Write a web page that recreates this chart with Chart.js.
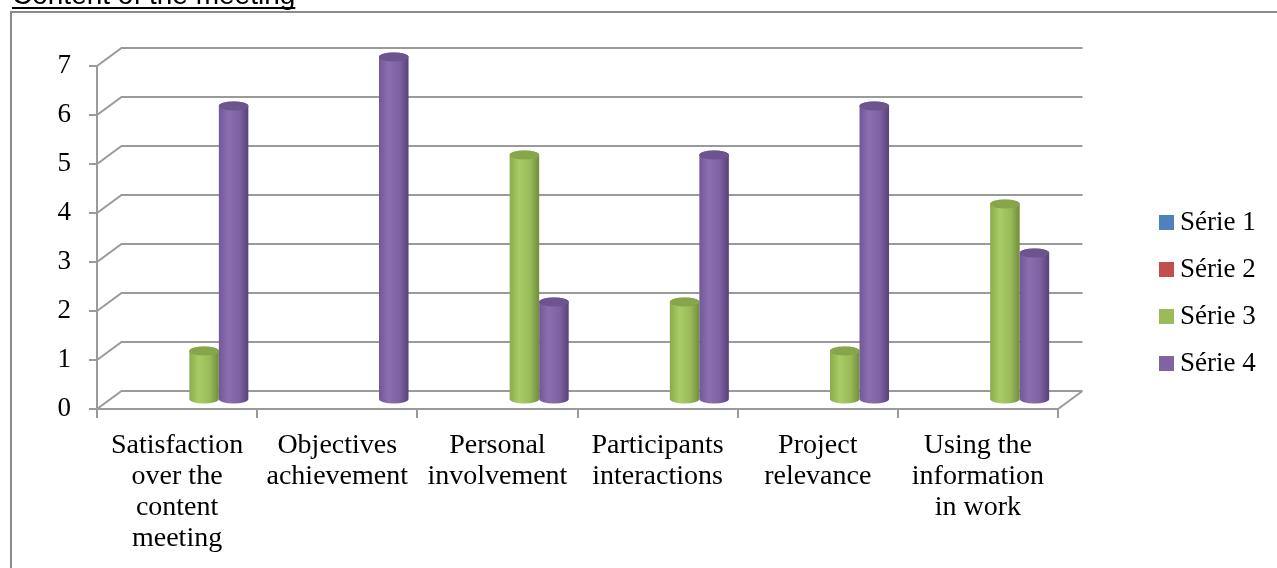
<!DOCTYPE html>
<html>
<head>
<meta charset="utf-8">
<title>Content of the meeting</title>
<script src="https://cdn.jsdelivr.net/npm/chart.js@4.4.0/dist/chart.umd.min.js"></script>
<style>
  html, body { margin: 0; padding: 0; background: #fff; }
  canvas { display: block; }
</style>
</head>
<body>
<canvas id="meetingChart" width="1277" height="568"></canvas>
<script>
// Chart data
const categories = [
    ["Satisfaction", "over the", "content", "meeting"],
    ["Objectives", "achievement"],
    ["Personal", "involvement"],
    ["Participants", "interactions"],
    ["Project", "relevance"],
    ["Using the", "information", "in work"]
];
const serie1 = [0, 0, 0, 0, 0, 0];
const serie2 = [0, 0, 0, 0, 0, 0];
const serie3 = [1, 0, 5, 2, 1, 4];
const serie4 = [6, 7, 2, 5, 6, 3];
const seriesNames = ["Série 1", "Série 2", "Série 3", "Série 4"];
const yTicks = [0, 1, 2, 3, 4, 5, 6, 7];

// Styles
const seriesColors = ["#4F81BD", "#C0504D", "#9BBB59", "#8064A2"];
const cylinderTones = [
    { edge: "#46729f", light: "#6d9bd3", mid: "#4f81bd", dark: "#355d8c", top: "#43709f" },
    { edge: "#a5413f", light: "#d46a67", mid: "#c0504d", dark: "#8c3634", top: "#a3423f" },
    { edge: "#8cab4d", light: "#a9cc66", mid: "#98ba58", dark: "#718d3a", top: "#87a54a" },
    { edge: "#71579a", light: "#8b6eaf", mid: "#7d61a1", dark: "#57427a", top: "#6b548f" }
];
const gridColor = "#9a9a9a";
const textFont = "'Liberation Serif', 'Times New Roman', serif";

// depth of the 3D box (back wall offset from the front plane)
const depthX = 24.5;
const depthY = -18;

function drawCylinder(c, cx, yTop, yBase, r, ry, tone) {
    if (yBase - yTop < 0.5) return;
    const left = cx - r, right = cx + r;
    const grad = c.createLinearGradient(left, 0, right, 0);
    grad.addColorStop(0, tone.edge);
    grad.addColorStop(0.32, tone.light);
    grad.addColorStop(0.7, tone.mid);
    grad.addColorStop(1, tone.dark);
    c.beginPath();
    c.moveTo(left, yTop);
    c.lineTo(left, yBase);
    c.ellipse(cx, yBase, r, ry, 0, Math.PI, 0, true);
    c.lineTo(right, yTop);
    c.ellipse(cx, yTop, r, ry, 0, 0, Math.PI, true);
    c.closePath();
    c.fillStyle = grad;
    c.fill();

    // top cap
    c.beginPath();
    c.ellipse(cx, yTop, r, ry, 0, 0, Math.PI * 2);
    c.fillStyle = tone.top;
    c.fill();
}

const framePlugin = {
    id: "frame",
    beforeDraw(chart) {
        const c = chart.ctx;
        c.save();
        c.strokeStyle = "#8a8a8a";
        c.lineWidth = 2;
        c.strokeRect(11, 12, 2000, 2000);

        c.font = "28px 'Liberation Sans', Arial, sans-serif";
        c.fillStyle = "#000";
        c.textBaseline = "alphabetic";
        const title = "Content of the meeting";
        c.fillText(title, 12, 4);
        c.fillRect(12, 7, c.measureText(title).width, 2);
        c.restore();
    }
};

const cylinderPlugin = {
    id: "cylinders",
    beforeDatasetsDraw(chart) {
        const c = chart.ctx;
        const area = chart.chartArea;
        const yScale = chart.scales.y;

        // back wall and floor grid
        c.save();
        c.strokeStyle = gridColor;
        c.lineWidth = 2;
        c.beginPath();
        yTicks.forEach(v => {
            const y = Math.round(yScale.getPixelForValue(v));
            c.moveTo(area.left, y);
            c.lineTo(area.left + depthX, y + depthY);
            c.lineTo(area.right + depthX, y + depthY);
            if (v === 0) {
                c.moveTo(area.right, y);
                c.lineTo(area.right + depthX, y + depthY);
            }
        });
        c.stroke();

        // cylinders sit halfway into the box
        chart.data.datasets.forEach((ds, i) => {
            const meta = chart.getDatasetMeta(i);
            meta.data.forEach((bar, j) => {
                if (!ds.data[j]) return;
                const p = bar.getProps(["x", "y", "base", "width"], true);
                drawCylinder(c, p.x + depthX / 2, p.y + depthY / 2, p.base + depthY / 2,
                    p.width / 2, 4.5, cylinderTones[i]);
            });
        });
        c.restore();
        return false;
    },
    afterDraw(chart) {
        // legend
        const c = chart.ctx;
        c.save();
        c.font = "27px " + textFont;
        c.textBaseline = "middle";
        c.textAlign = "left";
        chart.data.datasets.forEach((ds, i) => {
            const y = 222.5 + i * 47;
            c.fillStyle = seriesColors[i];
            c.fillRect(1159, y - 7.5, 15, 15);
            c.fillStyle = "#000";
            c.fillText(ds.label, 1180, y);
        });
        c.restore();
    }
};

const ctx = document.getElementById("meetingChart").getContext("2d");

const meetingChart = new Chart(ctx, {
    type: "bar",
    data: {
        labels: categories,
        datasets: [
            { label: seriesNames[0], data: serie1, backgroundColor: seriesColors[0] },
            { label: seriesNames[1], data: serie2, backgroundColor: seriesColors[1] },
            { label: seriesNames[2], data: serie3, backgroundColor: seriesColors[2] },
            { label: seriesNames[3], data: serie4, backgroundColor: seriesColors[3] }
        ]
    },
    options: {
        responsive: false,
        animation: false,
        layout: { padding: { top: 66, right: 219, bottom: 0, left: 0 } },
        datasets: { bar: { categoryPercentage: 0.737, barPercentage: 1 } },
        scales: {
            x: {
                grid: { drawOnChartArea: false, tickLength: 9, color: gridColor, lineWidth: 2 },
                border: { color: gridColor, width: 2 },
                ticks: {
                    color: "#000",
                    font: { family: textFont, size: 28, lineHeight: 1.11 },
                    padding: 12,
                    maxRotation: 0,
                    autoSkip: false
                },
                afterFit: scale => { scale.height = 159; }
            },
            y: {
                min: 0,
                max: 7,
                grid: { drawOnChartArea: false, tickLength: 8, color: gridColor, lineWidth: 2 },
                border: { color: gridColor, width: 2 },
                ticks: {
                    color: "#000",
                    font: { family: textFont, size: 27 },
                    padding: 18
                },
                afterBuildTicks: scale => { scale.ticks = yTicks.map(v => ({ value: v })); },
                afterFit: scale => { scale.width = 97; }
            }
        },
        plugins: {
            legend: { display: false },
            tooltip: { enabled: false }
        }
    },
    plugins: [framePlugin, cylinderPlugin]
});
</script>
</body>
</html>
